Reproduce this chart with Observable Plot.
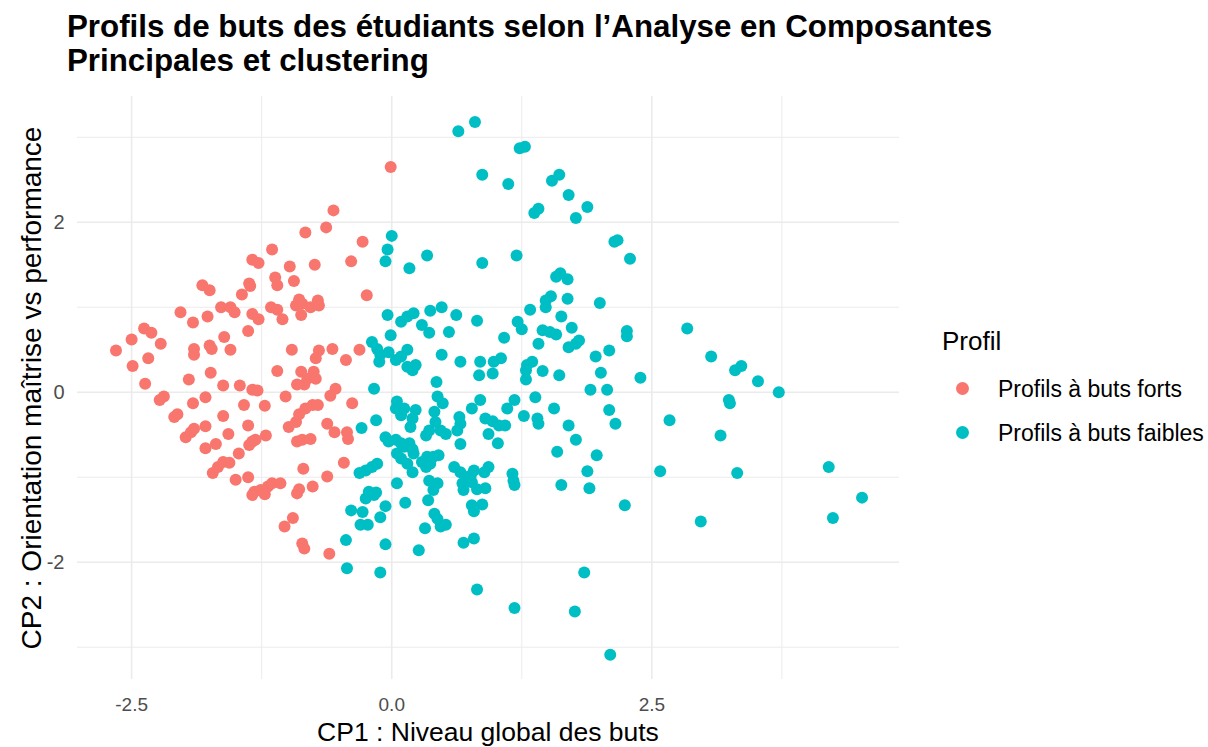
<!DOCTYPE html>
<html><head><meta charset="utf-8">
<script src="https://cdn.jsdelivr.net/npm/d3@7"></script>
<script src="https://cdn.jsdelivr.net/npm/@observablehq/plot@0.6"></script>
<style>
html,body{margin:0;padding:0;background:#fff;}
#root{position:relative;width:1208px;height:747px;overflow:hidden;font-family:"Liberation Sans",Arial,sans-serif;color:#000;}
#title{position:absolute;left:67px;top:10px;font-weight:bold;font-size:31.3px;line-height:34px;white-space:nowrap;}
#chart{position:absolute;left:0;top:85px;}
#ytitle{position:absolute;left:32px;top:388px;font-size:28px;white-space:nowrap;transform:translate(-50%,-50%) rotate(-90deg);line-height:28px;}
#xtitle{position:absolute;left:488px;top:719px;font-size:26.5px;line-height:26px;white-space:nowrap;transform:translateX(-50%);}
#legend{position:absolute;left:942px;top:326px;}
#legend .lt{font-size:26px;line-height:30px;}
#legend .item{position:absolute;left:0;white-space:nowrap;font-size:23px;line-height:26px;}
#legend .sw{position:absolute;left:14px;width:13px;height:13px;border-radius:50%;}
#legend .lab{position:absolute;left:56px;}
</style>
</head><body>
<div id="root">
  <div id="title"></div>
  <div id="chart"></div>
  <div id="ytitle"></div>
  <div id="xtitle"></div>
  <div id="legend"></div>
</div>
<script>
const titleLines = ["Profils de buts des étudiants selon l’Analyse en Composantes", "Principales et clustering"];
const xTitle = "CP1 : Niveau global des buts";
const yTitle = "CP2 : Orientation maîtrise vs performance";
const legendTitle = "Profil";
const profils = ["Profils à buts forts", "Profils à buts faibles"];
const couleurs = ["#F8766D", "#00BFC4"];
const xTicks = [-2.5, 0, 2.5];
const xMinor = [-1.25, 1.25, 3.75];
const yTicks = [-2, 0, 2];
const yMinor = [-3, -1, 1, 3];

const forts = [
[-0.56,2.14],[-0.63,1.94],[-0.83,1.88],[-0.28,1.77],[-0.39,1.54],[-0.74,1.50],[-0.98,1.48],[-1.15,1.68],
[-1.34,1.56],[-1.28,1.52],[-1.12,1.35],[-1.10,1.26],[-0.94,1.31],[-1.37,1.28],[-1.36,1.25],[-1.82,1.26],
[-1.75,1.20],[-1.44,1.15],[-0.89,1.09],[-0.71,1.08],[-0.24,1.14],[-0.01,2.65],[-2.03,0.94],[-1.91,0.82],
[-1.77,0.89],[-1.64,1.00],[-1.55,1.00],[-1.51,0.94],[-1.34,0.92],[-1.28,0.86],[-1.38,0.72],[-1.16,1.00],
[-1.10,0.97],[-1.05,0.86],[-0.92,1.02],[-0.86,1.04],[-0.87,0.91],[-0.78,1.00],[-0.70,1.02],[-2.65,0.49],
[-2.50,0.62],[-2.38,0.75],[-2.31,0.70],[-2.22,0.57],[-2.49,0.31],[-2.34,0.40],[-2.37,0.10],[-1.90,0.51],
[-1.90,0.44],[-1.75,0.55],[-1.73,0.51],[-1.61,0.65],[-1.55,0.50],[-1.74,0.23],[-1.95,0.15],[-1.62,0.08],
[-1.46,0.08],[-1.34,0.03],[-1.29,0.02],[-1.10,0.25],[-0.96,0.50],[-0.87,0.24],[-0.81,0.16],[-0.75,0.24],
[-0.84,0.09],[-0.91,0.09],[-0.73,0.16],[-0.70,0.49],[-0.73,0.40],[-0.57,0.51],[-0.44,0.38],[-0.31,0.50],
[-0.54,0.04],[-0.59,-0.04],[-0.38,-0.13],[-2.19,-0.05],[-2.23,-0.09],[-2.09,-0.29],[-2.06,-0.26],[-1.91,-0.13],
[-1.79,-0.06],[-1.98,-0.53],[-1.93,-0.47],[-1.90,-0.43],[-1.79,-0.40],[-1.62,-0.28],[-1.57,-0.49],[-1.42,-0.15],
[-1.38,-0.39],[-1.22,-0.16],[-1.21,-0.51],[-1.34,-0.58],[-1.37,-0.62],[-1.31,-0.56],[-1.79,-0.66],[-1.69,-0.61],
[-1.47,-0.72],[-1.02,-0.05],[-0.99,-0.41],[-0.92,-0.35],[-0.89,-0.26],[-0.83,-0.19],[-0.76,-0.15],[-0.71,-0.15],
[-0.91,-0.58],[-0.86,-0.56],[-0.78,-0.55],[-0.62,-0.37],[-0.55,-0.47],[-0.43,-0.47],[-0.42,-0.55],[-0.46,-0.83],
[-0.85,-0.90],[-0.62,-0.99],[-0.76,-1.11],[-0.89,-1.14],[-1.07,-1.07],[-1.19,-1.11],[-1.15,-1.07],[-1.32,-1.17],
[-1.26,-1.15],[-1.50,-1.03],[-1.38,-1.00],[-1.72,-0.95],[-1.67,-0.88],[-1.62,-0.82],[-1.56,-0.83],[-1.34,-1.21],
[-1.22,-1.20],[-0.91,-1.19],[-1.03,-1.58],[-0.95,-1.48],[-0.86,-1.78],[-0.84,-1.84],[-0.60,-1.90]
];

const faibles = [
[0.64,3.07],[0.80,3.18],[1.23,2.87],[1.28,2.89],[0.87,2.56],[1.12,2.45],[1.54,2.49],[1.61,2.56],
[1.70,2.32],[1.88,2.18],[1.37,2.11],[1.41,2.16],[1.77,2.05],[0.00,1.84],[-0.04,1.68],[-0.06,1.54],
[0.17,1.46],[0.34,1.61],[0.87,1.52],[1.20,1.61],[2.14,1.77],[2.17,1.79],[2.29,1.57],[1.58,1.36],
[1.62,1.40],[1.69,1.33],[2.26,0.72],[2.26,0.66],[2.84,0.75],[3.07,0.42],[3.30,0.26],[3.36,0.31],
[3.52,0.13],[3.72,0.00],[2.39,0.17],[3.24,-0.09],[3.25,-0.13],[2.67,-0.33],[3.16,-0.51],[2.58,-0.93],
[3.32,-0.95],[4.20,-0.88],[2.97,-1.52],[4.24,-1.48],[4.52,-1.24],[2.24,-1.33],
[-0.39,-1.39],[-0.28,-1.41],[-0.25,-1.25],[-0.17,-1.21],[-0.30,-1.56],[-0.23,-1.56],[-0.11,-1.47],[-0.06,-1.34],
[-0.44,-1.74],[-0.06,-1.79],[-0.43,-2.07],[-0.11,-2.12],[0.13,-1.30],[0.35,-1.27],[0.41,-1.43],[0.44,-1.49],
[0.52,-1.56],[0.47,-1.58],[0.32,-1.60],[0.26,-1.86],[0.77,-1.33],[0.79,-1.40],[0.87,-1.32],[0.69,-1.77],
[0.79,-1.72],[0.82,-2.32],[1.18,-1.09],[1.18,-2.54],[1.63,-1.09],[1.90,-1.13],[1.85,-2.12],[1.76,-2.58],
[2.10,-3.09],
[-0.04,0.91],[0.09,0.83],[0.15,0.89],[0.21,0.93],[0.37,0.96],[0.48,1.00],[0.62,0.91],[0.82,0.84],
[0.29,0.79],[0.36,0.70],[0.55,0.71],[-0.01,0.67],[-0.19,0.59],[-0.14,0.51],[-0.11,0.44],[-0.12,0.36],
[-0.03,0.47],[0.04,0.38],[0.09,0.42],[0.15,0.50],[0.15,0.30],[0.20,0.26],[0.23,0.32],[0.48,0.44],
[0.66,0.36],[0.85,0.36],[0.84,0.20],[0.97,0.22],[0.98,0.36],[1.05,0.40],[1.08,0.64],[1.21,0.83],
[1.25,0.74],[1.33,0.97],[1.48,1.08],[1.53,1.13],[1.48,1.00],[1.69,1.10],[2.00,1.05],[1.63,0.89],
[1.45,0.73],[1.52,0.71],[1.58,0.68],[1.73,0.76],[1.41,0.57],[1.70,0.53],[1.77,0.57],[1.80,0.61],
[1.96,0.42],[2.09,0.49],[2.01,0.23],[1.91,0.03],[2.07,0.03],[1.30,0.32],[1.35,0.36],[1.29,0.26],
[1.29,0.15],[1.45,0.25],[1.61,0.20],[-0.17,0.04],[0.43,0.12],[1.38,-0.06],[1.56,-0.19],[0.44,-0.05],
[0.49,-0.13],[0.05,-0.11],[0.04,-0.19],[0.09,-0.27],[0.12,-0.19],[0.23,-0.21],[0.20,-0.31],[0.18,-0.41],
[0.41,-0.23],[0.42,-0.35],[0.47,-0.45],[0.52,-0.49],[0.65,-0.29],[0.66,-0.37],[0.63,-0.45],[0.77,-0.19],
[0.85,-0.09],[0.90,-0.31],[0.97,-0.34],[1.03,-0.39],[1.09,-0.39],[0.93,-0.49],[1.02,-0.60],[1.11,-0.19],
[1.18,-0.09],[1.27,-0.28],[1.40,-0.31],[1.41,-0.37],[1.70,-0.39],[2.09,-0.21],[2.15,-0.37],[1.77,-0.56],
[1.59,-0.70],[1.97,-0.74],[1.88,-0.93],[-0.15,-0.33],[-0.29,-0.42],[-0.06,-0.53],[-0.03,-0.58],[0.04,-0.56],
[0.09,-0.60],[0.12,-0.64],[0.17,-0.60],[0.20,-0.67],[0.21,-0.72],[0.05,-0.72],[0.09,-0.78],[0.15,-0.84],
[0.20,-0.94],[0.33,-0.51],[0.36,-0.45],[0.29,-0.82],[0.34,-0.76],[0.40,-0.76],[0.45,-0.74],[0.33,-0.88],
[0.37,-0.84],[0.66,-0.61],[0.60,-0.88],[0.66,-0.94],[0.71,-1.00],[0.76,-0.98],[0.79,-0.92],[0.89,-0.94],
[0.93,-0.88],[1.16,-0.96],[1.17,-1.04],[-0.31,-0.95],[-0.25,-0.92],[-0.19,-0.88],[-0.14,-0.84],[0.05,-1.07],
[-0.22,-1.17],[-0.15,-1.18],[0.36,-1.04],[0.44,-1.07],[0.40,-1.15],[0.68,-1.07],[0.77,-1.06],[0.69,-1.15],
[0.82,-1.14],[0.90,-1.13]
];

const data = forts.map(([x, y]) => ({x, y, profil: profils[0]}))
  .concat(faibles.map(([x, y]) => ({x, y, profil: profils[1]})));

document.getElementById("title").innerHTML = titleLines.join("<br>");
document.getElementById("xtitle").textContent = xTitle;
document.getElementById("ytitle").textContent = yTitle;

const gridStyle = {stroke: "#ebebeb", strokeOpacity: 1};
const chart = Plot.plot({
  width: 1208,
  height: 662,
  marginLeft: 77,
  marginRight: 309,
  marginTop: 11,
  marginBottom: 68,
  style: {background: "transparent", fontFamily: "Liberation Sans, Arial, sans-serif"},
  x: {domain: [-3.02, 4.88]},
  y: {domain: [-3.38, 3.48]},
  color: {domain: profils, range: couleurs},
  marks: [
    Plot.gridX(xMinor, {...gridStyle, strokeWidth: 1}),
    Plot.gridY(yMinor, {...gridStyle, strokeWidth: 1}),
    Plot.gridX(xTicks, {...gridStyle, strokeWidth: 1.6}),
    Plot.gridY(yTicks, {...gridStyle, strokeWidth: 1.6}),
    Plot.axisX(xTicks, {tickSize: 0, tickPadding: 18, fontSize: 19, color: "#4d4d4d", label: null, tickFormat: d => d.toFixed(1)}),
    Plot.axisY(yTicks, {tickSize: 0, tickPadding: 13, fontSize: 20, color: "#4d4d4d", label: null, tickFormat: d => String(d)}),
    Plot.dot(data, {x: "x", y: "y", fill: "profil", r: 6})
  ]
});
document.getElementById("chart").appendChild(chart);

const leg = document.getElementById("legend");
const lt = document.createElement("div");
lt.className = "lt";
lt.textContent = legendTitle;
leg.appendChild(lt);
profils.forEach((p, i) => {
  const item = document.createElement("div");
  item.className = "item";
  item.style.top = (50 + i * 44) + "px";
  const sw = document.createElement("span");
  sw.className = "sw";
  sw.style.background = couleurs[i];
  sw.style.top = "6px";
  const lab = document.createElement("span");
  lab.className = "lab";
  lab.textContent = p;
  item.appendChild(sw);
  item.appendChild(lab);
  leg.appendChild(item);
});
</script>
</body></html>
